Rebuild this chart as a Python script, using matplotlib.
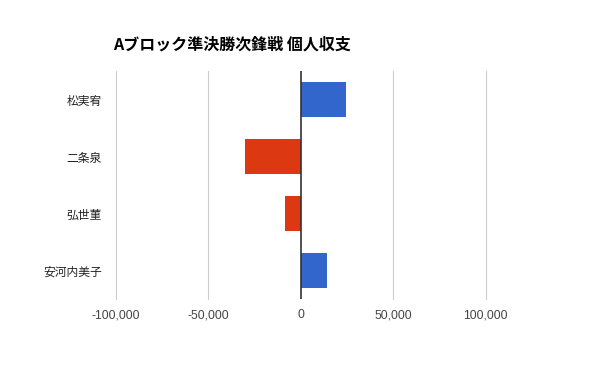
import matplotlib
matplotlib.use("Agg")
import matplotlib.pyplot as plt

title = "Aブロック準決勝次鋒戦 個人収支"
players = ["松実宥", "二条泉", "弘世菫", "安河内美子"]
balance = [24500, -29900, -8300, 14300]
xticks = [-100000, -50000, 0, 50000, 100000]
xticklabels = ["-100,000", "-50,000", "0", "50,000", "100,000"]

POS = "#3366CC"
NEG = "#DC3912"

fig = plt.figure(figsize=(6.0, 3.71), dpi=100)
ax = fig.add_axes([0.1928, 0.1933, 0.6167, 0.6153])

colors = [POS if v >= 0 else NEG for v in balance]
ypos = list(range(len(players)))
ax.barh(ypos, balance, height=0.61, color=colors, zorder=2)

ax.set_xlim(xticks[0], xticks[-1])
ax.set_ylim(len(players) - 0.5, -0.5)

for t in xticks:
    if t == 0:
        ax.axvline(t, color="#333333", lw=1.2, zorder=3)
    else:
        ax.axvline(t, color="#cccccc", lw=0.8, zorder=1, clip_on=False)

ax.set_xticks(xticks)
ax.set_xticklabels(xticklabels, family=["Liberation Sans", "DejaVu Sans"],
                   fontsize=8.8, color="#444444")
ax.set_yticks(ypos)
ax.set_yticklabels(players, family=["Noto Sans CJK JP", "DejaVu Sans"],
                   fontsize=8.5, color="#222222")
ax.tick_params(axis="x", length=0, pad=7)
ax.tick_params(axis="y", length=0, pad=10)
for s in ax.spines.values():
    s.set_visible(False)

fig.text(0.189, 0.881, title, family=["Noto Sans CJK JP", "DejaVu Sans"],
         fontsize=11.5, fontweight="bold", ha="left", va="center", color="#000000")

fig.savefig("out.png", dpi=100, facecolor="white")
